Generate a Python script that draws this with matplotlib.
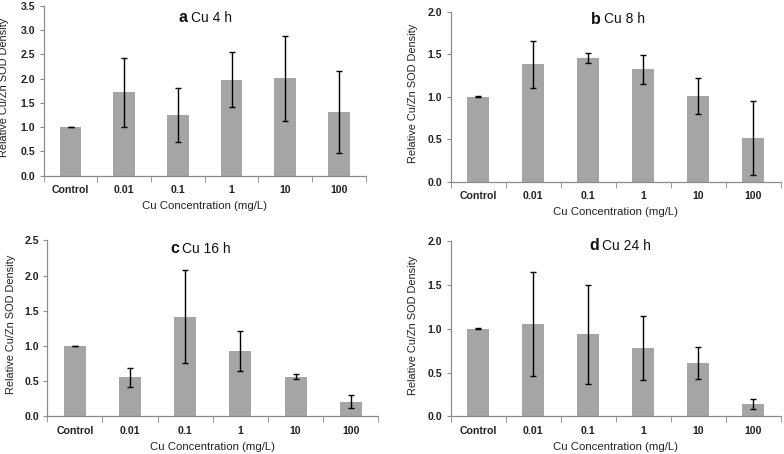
import numpy as np
import matplotlib
matplotlib.use("Agg")
import matplotlib.pyplot as plt
from matplotlib.transforms import offset_copy

plt.rcParams['font.family'] = ['Liberation Sans', 'DejaVu Sans']

## data ##
concs = ["Control", "0.01", "0.1", "1", "10", "100"]

mean_4h = [1.00, 1.72, 1.25, 1.98, 2.01, 1.31]
err_4h = [0.005, 0.71, 0.555, 0.565, 0.875, 0.85]

mean_8h = [1.00, 1.38, 1.455, 1.32, 1.01, 0.515]
err_8h = [0.005, 0.277, 0.06, 0.165, 0.215, 0.44]

mean_16h = [1.00, 0.555, 1.415, 0.93, 0.565, 0.21]
err_16h = [0.005, 0.133, 0.663, 0.284, 0.037, 0.09]

mean_24h = [1.00, 1.055, 0.935, 0.785, 0.61, 0.14]
err_24h = [0.005, 0.59, 0.57, 0.366, 0.187, 0.055]

letters = ["a", "b", "c", "d"]
titles = ["Cu 4 h", "Cu 8 h", "Cu 16 h", "Cu 24 h"]
ymax = [3.5, 2.0, 2.5, 2.0]

W, H = 784, 454
# axes boxes in pixels: left, right, top, bottom
boxes = [(43.7, 365.7, 6.0, 175.7),
         (450.7, 781.0, 11.7, 181.7),
         (47.3, 378.3, 240.3, 416.3),
         (450.7, 781.0, 241.3, 416.3)]
title_pos = [(0.448, 0.93), (0.455, 0.957), (0.398, 0.952), (0.45, 0.975)]
ylab_x = [-0.107, -0.100, -0.096, -0.100]

means = [mean_4h, mean_8h, mean_16h, mean_24h]
errs = [err_4h, err_8h, err_16h, err_24h]

bar_color = "#a5a5a5"
axis_color = "#8c8c8c"

fig = plt.figure(figsize=(W / 100, H / 100), dpi=100)

for i in range(4):
    l, r, t, b = boxes[i]
    ax = fig.add_axes([l / W, 1 - b / H, (r - l) / W, (b - t) / H])
    x = np.arange(len(concs))
    ax.bar(x, means[i], width=0.4, color=bar_color, zorder=2)
    ax.errorbar(x, means[i], yerr=errs[i], fmt='none', ecolor='black',
                elinewidth=1.0, capsize=2.2, capthick=1.0, zorder=3)

    ax.set_xlim(-0.5, len(concs) - 0.5)
    ax.set_ylim(0, ymax[i])
    ax.set_yticks(np.arange(0, ymax[i] + 0.01, 0.5))
    ax.yaxis.set_major_formatter(matplotlib.ticker.FormatStrFormatter('%.1f'))
    ax.set_xticks(x)
    ax.set_xticklabels(concs)
    ax.set_xticks(np.arange(-0.5, len(concs)), minor=True)

    for s in ['top', 'right']:
        ax.spines[s].set_visible(False)
    for s in ['left', 'bottom']:
        ax.spines[s].set_color(axis_color)
        ax.spines[s].set_linewidth(0.9)

    ax.tick_params(axis='x', which='major', length=0, pad=7)
    ax.tick_params(axis='x', which='minor', length=4, color=axis_color, direction='out')
    ax.tick_params(axis='y', length=3, color=axis_color, direction='out', pad=3)
    for lab in ax.get_xticklabels() + ax.get_yticklabels():
        lab.set_fontsize(7.6)
        lab.set_fontweight('bold')
        lab.set_color('#222222')

    ax.set_xlabel("Cu Concentration (mg/L)", fontsize=8.2, color='#222222', labelpad=4)
    ax.set_ylabel("Relative Cu/Zn SOD Density", fontsize=7.9, color='#222222')
    ax.yaxis.set_label_coords(ylab_x[i], 0.52)

    # panel title: bold letter + plain text
    tx, ty = title_pos[i]
    ax.text(tx, ty, letters[i], transform=ax.transAxes, ha='right', va='center',
            fontsize=11.5, fontweight='bold', color='#111111')
    ax.text(tx, ty, titles[i], transform=offset_copy(ax.transAxes, fig=fig, x=2, y=0, units='points'),
            ha='left', va='center', fontsize=10, color='#111111')

fig.savefig("out.png", dpi=100)
